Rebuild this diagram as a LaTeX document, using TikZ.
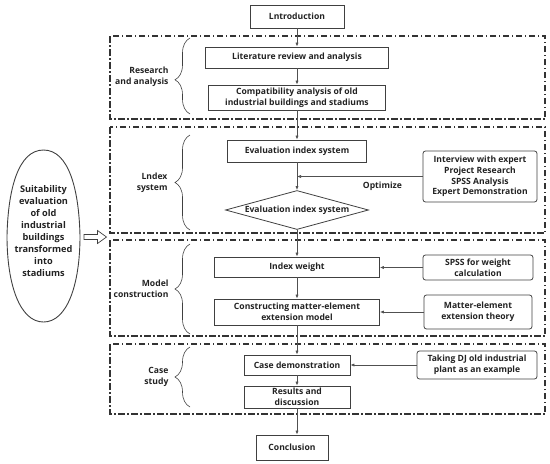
\documentclass[tikz,border=0pt]{standalone}
\usepackage{fontspec}
\setmainfont{Open Sans}
\usetikzlibrary{shapes.geometric,decorations.pathreplacing,arrows.meta}
\definecolor{ln}{HTML}{505050}
\definecolor{bx}{HTML}{404040}
\definecolor{tx}{HTML}{222222}
\tikzset{
  every node/.style={font=\fontsize{8.6}{10.6}\selectfont\bfseries, text=tx},
  mainbox/.style={draw=bx, line width=0.8pt, inner sep=0pt, align=center},
  sidebox/.style={draw=bx, line width=0.8pt, inner sep=0pt, align=center, rounded corners=2.5pt},
  arr/.style={draw=ln, line width=0.7pt, -{Latex[length=4pt,width=3.2pt]}},
  section/.style={draw=black!80, line width=1.1pt, dash pattern=on 6.5pt off 2.5pt on 1.5pt off 2.5pt},
  brc/.style={draw=bx, line width=0.6pt, decorate, decoration={brace, amplitude=15pt}},
  lab/.style={anchor=east, align=right},
}
\begin{document}
\begin{tikzpicture}[x=1pt,y=-1pt]
\useasboundingbox (0,0) rectangle (550,464);
% sections
\draw[section] (110,36) rectangle (545,119);
\draw[section] (110,127) rectangle (545,233);
\draw[section] (110,240) rectangle (545,336);
\draw[section] (110,344) rectangle (545,414);
% main nodes
\node[mainbox, minimum width=94, minimum height=23] (intro) at (297,16.5) {Lntroduction};
\node[mainbox, minimum width=183, minimum height=21] (lit) at (297,57.5) {Literature review and analysis};
\node[mainbox, minimum width=177, minimum height=25] (compat) at (297,97.5) {Compatibility analysis of old\\industrial buildings and stadiums};
\node[mainbox, minimum width=139, minimum height=22] (evalbox) at (297,151) {Evaluation index system};
\node[draw=bx, line width=0.8pt, diamond, inner sep=0pt, aspect=3.6, minimum width=143, minimum height=39] (evald) at (297,210) {Evaluation index system};
\node[mainbox, minimum width=165, minimum height=20] (idx) at (297,267) {Index weight};
\node[mainbox, minimum width=165, minimum height=26] (construct) at (297,312) {Constructing matter-element\\extension model};
\node[mainbox, minimum width=106, minimum height=20] (casedemo) at (297,365) {Case demonstration};
\node[mainbox, minimum width=106, minimum height=22] (results) at (297,397) {Results and\\discussion};
\node[mainbox, minimum width=72, minimum height=25] (concl) at (292,447.5) {Conclusion};
% side nodes
\node[sidebox, minimum width=114, minimum height=51] (interview) at (480,176.5) {Interview with expert\\Project Research\\SPSS Analysis\\Expert Demonstration};
\node[sidebox, minimum width=110, minimum height=25] (spss) at (478,267.5) {SPSS for weight\\calculation};
\node[sidebox, minimum width=108, minimum height=34] (matter) at (478,312) {Matter-element\\extension theory};
\node[sidebox, minimum width=120, minimum height=28] (taking) at (477,365) {Taking DJ old industrial\\plant as an example};
% main flow
\draw[arr] (intro) -- (lit);
\draw[arr] (lit) -- (compat);
\draw[arr] (compat) -- (evalbox);
\draw[arr] (evalbox) -- (evald);
\draw[arr] (evald) -- (idx);
\draw[arr] (idx) -- (construct);
\draw[arr] (construct) -- (casedemo);
\draw[arr] (casedemo) -- (results);
\draw[arr] (results.south) -- (results.south |- concl.north);
% side arrows
\draw[arr] (interview.west) -- (interview.west -| evalbox.south) node[pos=0.32, below=1.5pt] (opt) {Optimize};
\draw[arr] (spss.west) -- (spss.west -| idx.east);
\draw[arr] (matter.west) -- (matter.west -| construct.east);
\draw[arr] (taking.west) -- (taking.west -| casedemo.east);
% braces and labels
\draw[brc, decoration={aspect=0.45}] (190,114) -- (190,38);
\draw[brc] (190,230) -- (190,135);
\draw[brc] (190,334) -- (190,244);
\draw[brc] (190,407) -- (190,347);
\node[lab] (l1) at (172,77) {Research\\and analysis};
\node[lab] (l2) at (171,183) {Lndex\\system};
\node[lab] (l3) at (172,289) {Model\\construction};
\node[lab] (l4) at (172,377) {Case\\study};
% left oval
\draw[draw=bx, line width=0.9pt] (43.5,150) .. controls (18,150) and (8,190) .. (7,236)
  .. controls (7,285) and (20,322) .. (43.5,322)
  .. controls (67,322) and (80,285) .. (80,236)
  .. controls (79,190) and (69,150) .. (43.5,150);
\node[align=center, font=\fontsize{9.2}{12}\selectfont\bfseries] (topic) at (43.5,231) {Suitability\\evaluation\\of old\\industrial\\buildings\\transformed\\into\\stadiums};
\draw[draw=bx, line width=0.7pt, fill=white] (84,234.5) -- (97.5,234.5) -- (97.5,230.5) -- (106.5,237) -- (97.5,243.5) -- (97.5,239.5) -- (84,239.5) -- cycle;
\end{tikzpicture}
\end{document}
